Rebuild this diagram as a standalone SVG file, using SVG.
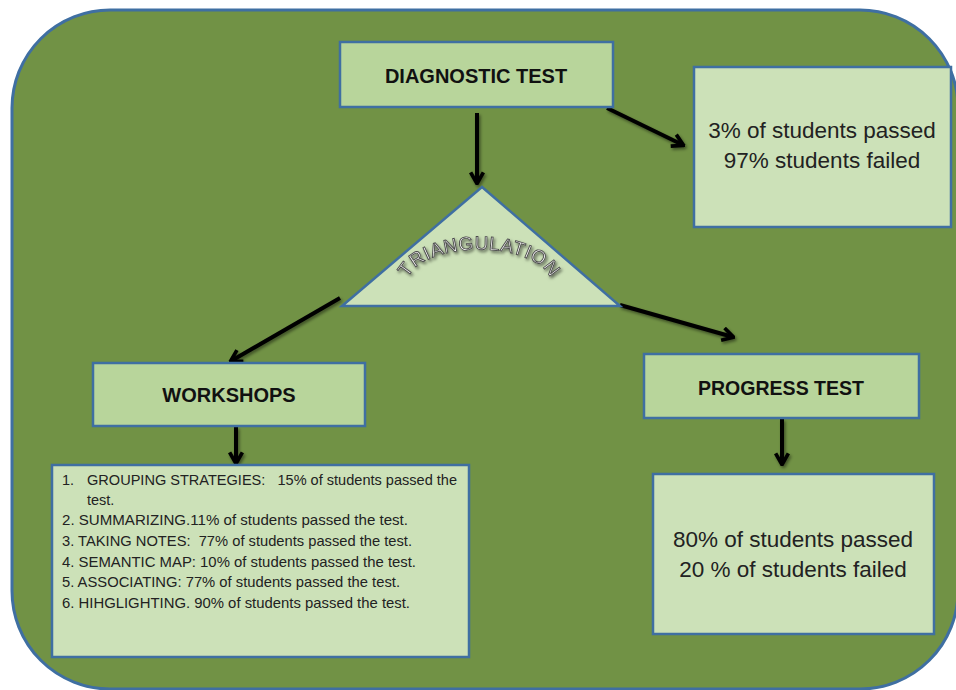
<svg xmlns="http://www.w3.org/2000/svg" width="956" height="690" viewBox="0 0 956 690">
<style>
.bg{fill:#719245;stroke:#3F6FA2;stroke-width:3}
.hd{fill:#B8D59B;stroke:#3F6FA2;stroke-width:2.5}
.lt{fill:#CCE1B8;stroke:#3F6FA2;stroke-width:2.5}
.ttl{font-family:"Liberation Sans",Arial,sans-serif;font-weight:bold;font-size:20px;fill:#111;text-anchor:middle}
.res{font-family:"Liberation Sans",Arial,sans-serif;font-size:22.5px;fill:#222;text-anchor:middle}
.lst{font-family:"Liberation Sans",Arial,sans-serif;font-size:14.5px;fill:#222;white-space:pre}
.arc{font-family:"Liberation Sans",Arial,sans-serif;font-size:19px;fill:#f6f6f6;stroke:#4a4a4a;stroke-width:0.9;letter-spacing:0.6px}
.cn{fill:none;stroke:#000;stroke-width:4;marker-end:url(#ah)}
</style>
<defs>
<marker id="ah" viewBox="0 0 10 10" refX="8.6" refY="5" markerWidth="4" markerHeight="4" orient="auto" markerUnits="strokeWidth">
<path d="M2,1 L9,5 L2,9" fill="none" stroke="#000" stroke-width="2.3" stroke-linejoin="miter"/>
</marker>
<filter id="sh" x="-20%" y="-20%" width="140%" height="140%">
<feDropShadow dx="1.5" dy="2" stdDeviation="1.5" flood-color="#000" flood-opacity="0.45"/>
</filter>
<filter id="tsh" x="-20%" y="-30%" width="140%" height="160%">
<feDropShadow dx="1.5" dy="2" stdDeviation="1.5" flood-color="#000" flood-opacity="0.55"/>
</filter>
<path id="archPath" d="M 408 278 A 71 34 0 0 1 550 290"/>
</defs>
<rect id="background" class="bg" x="12" y="10" width="946" height="679" rx="98" ry="98"/>
<g id="connectors" filter="url(#sh)">
<line class="cn" x1="477" y1="113" x2="477" y2="183"/>
<line class="cn" x1="607" y1="108" x2="683" y2="145"/>
<line class="cn" x1="340" y1="298" x2="231" y2="361"/>
<line class="cn" x1="620" y1="305" x2="733" y2="337"/>
<line class="cn" x1="236" y1="427" x2="236" y2="463"/>
<line class="cn" x1="782" y1="419" x2="782" y2="464"/>
</g>
<g id="diagnostic">
<rect class="hd" x="340" y="42" width="273" height="65"/>
<text class="ttl" x="476" y="83">DIAGNOSTIC TEST</text>
</g>
<g id="diagnostic-result">
<rect class="lt" x="694" y="67" width="257" height="160"/>
<text class="res" x="822" y="138">3% of students passed</text>
<text class="res" x="822" y="168">97% students failed</text>
</g>
<g id="triangulation">
<polygon class="lt" points="482,187 342,306 620,306" stroke-linejoin="miter"/>
<text class="arc" filter="url(#tsh)"><textPath href="#archPath" startOffset="0">TRIANGULATION</textPath></text>
</g>
<g id="workshops">
<rect class="hd" x="93" y="363" width="272" height="63"/>
<text class="ttl" x="229" y="402">WORKSHOPS</text>
</g>
<g id="workshops-list">
<rect class="lt" x="52" y="465" width="417" height="192"/>
<text class="lst" x="62" y="485">1.</text>
<text class="lst" x="87" y="485" textLength="370" lengthAdjust="spacingAndGlyphs">GROUPING STRATEGIES:   15% of students passed the</text>
<text class="lst" x="87" y="505">test.</text>
<text class="lst" x="62" y="525" textLength="346" lengthAdjust="spacingAndGlyphs">2. SUMMARIZING.11% of students passed the test.</text>
<text class="lst" x="62" y="546" textLength="350" lengthAdjust="spacingAndGlyphs">3. TAKING NOTES:  77% of students passed the test.</text>
<text class="lst" x="62" y="567" textLength="354" lengthAdjust="spacingAndGlyphs">4. SEMANTIC MAP: 10% of students passed the test.</text>
<text class="lst" x="62" y="587" textLength="338" lengthAdjust="spacingAndGlyphs">5. ASSOCIATING: 77% of students passed the test.</text>
<text class="lst" x="62" y="608" textLength="348" lengthAdjust="spacingAndGlyphs">6. HIHGLIGHTING. 90% of students passed the test.</text>
</g>
<g id="progress">
<rect class="hd" x="644" y="354" width="275" height="64"/>
<text class="ttl" x="781" y="395" textLength="166" lengthAdjust="spacingAndGlyphs">PROGRESS TEST</text>
</g>
<g id="progress-result">
<rect class="lt" x="653" y="474" width="281" height="160"/>
<text class="res" x="793" y="547">80% of students passed</text>
<text class="res" x="793" y="577">20 % of students failed</text>
</g>
</svg>
